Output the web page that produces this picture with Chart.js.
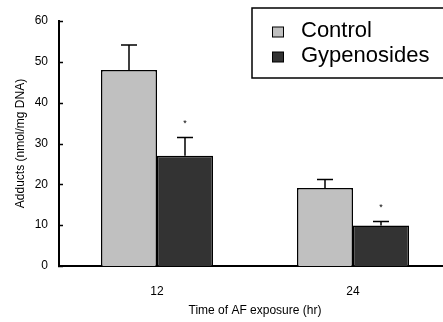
<!DOCTYPE html>
<html>
<head>
<meta charset="utf-8">
<script src="https://cdn.jsdelivr.net/npm/chart.js@4/dist/chart.umd.min.js"></script>
<style>
  html, body { margin: 0; padding: 0; background: #fff; overflow: hidden; }
  #wrap { width: 452px; height: 322px; }
</style>
</head>
<body>
<div id="wrap"><canvas id="c" width="452" height="322"></canvas></div>
<script>
// data
const categories = ['12', '24'];
const controlMeans = [48.0, 19.1];
const controlErr = [6.1, 2.1];
const gypMeans = [27.0, 9.9];
const gypErr = [4.5, 1.0];
const gypMarks = ['*', '*'];
const seriesLabels = ['Control', 'Gypenosides'];

const FONT = '"Liberation Sans", Arial, sans-serif';

// error bars + significance marks
const errorBars = {
  id: 'errorBars',
  afterDatasetsDraw(chart) {
    const ctx = chart.ctx;
    const y = chart.scales.y;
    const errs = [controlErr, gypErr];
    const marks = [null, gypMarks];
    chart.data.datasets.forEach((ds, di) => {
      const meta = chart.getDatasetMeta(di);
      meta.data.forEach((bar, i) => {
        const top = y.getPixelForValue(ds.data[i] + errs[di][i]);
        ctx.save();
        ctx.strokeStyle = '#000';
        ctx.lineWidth = 1.5;
        ctx.beginPath();
        ctx.moveTo(bar.x, bar.y);
        ctx.lineTo(bar.x, top);
        ctx.moveTo(bar.x - 8, top);
        ctx.lineTo(bar.x + 8, top);
        ctx.stroke();
        if (marks[di] && marks[di][i]) {
          ctx.fillStyle = '#000';
          ctx.font = '9px ' + FONT;
          ctx.textAlign = 'center';
          ctx.textBaseline = 'middle';
          ctx.fillText(marks[di][i], bar.x, top - 14);
        }
        ctx.restore();
      });
    });
  }
};

// inward tick marks on the y axis
const innerTicks = {
  id: 'innerTicks',
  afterDraw(chart) {
    const ctx = chart.ctx;
    const y = chart.scales.y;
    const left = chart.chartArea.left;
    ctx.save();
    ctx.strokeStyle = '#000';
    ctx.lineWidth = 1.5;
    y.ticks.forEach(t => {
      const py = Math.round(y.getPixelForValue(t.value)) + 0.5;
      ctx.beginPath();
      ctx.moveTo(left - 1, py);
      ctx.lineTo(left + 4, py);
      ctx.stroke();
    });
    ctx.restore();
  }
};

// boxed legend in the top right corner
const boxLegend = {
  id: 'boxLegend',
  afterDraw(chart) {
    const ctx = chart.ctx;
    ctx.save();
    ctx.fillStyle = '#fff';
    ctx.fillRect(252, 8, 220, 70);
    ctx.strokeStyle = '#000';
    ctx.lineWidth = 1.5;
    ctx.strokeRect(252, 8, 220, 70);
    ctx.font = '22px ' + FONT;
    ctx.textBaseline = 'alphabetic';
    chart.data.datasets.forEach((ds, i) => {
      const base = 37 + i * 25;
      ctx.fillStyle = ds.backgroundColor;
      ctx.fillRect(272.5, base - 10, 11, 10);
      ctx.lineWidth = 1;
      ctx.strokeRect(272.5, base - 10, 11, 10);
      ctx.fillStyle = '#000';
      ctx.fillText(ds.label, 301, base);
    });
    ctx.restore();
  }
};

new Chart(document.getElementById('c'), {
  type: 'bar',
  data: {
    labels: categories,
    datasets: [
      { label: seriesLabels[0], data: controlMeans, backgroundColor: '#c0c0c0', borderColor: '#000', borderWidth: 1.5 },
      { label: seriesLabels[1], data: gypMeans, backgroundColor: '#333333', borderColor: '#000', borderWidth: 1.5 }
    ]
  },
  options: {
    responsive: false,
    devicePixelRatio: 1,
    animation: false,
    layout: { padding: { top: 21, right: 1, left: 0, bottom: 0 } },
    datasets: { bar: { categoryPercentage: 0.5714, barPercentage: 1 } },
    plugins: { legend: { display: false }, tooltip: { enabled: false } },
    scales: {
      x: {
        grid: { display: false, drawTicks: false },
        border: { display: true, color: '#000', width: 2 },
        ticks: { color: '#000', padding: 18, font: { family: FONT, size: 12 } },
        title: { display: true, text: 'Time of AF exposure (hr)', color: '#000', padding: { top: 0, bottom: 4 }, font: { family: FONT, size: 12 } },
        afterFit(s) { s.height = 56; }
      },
      y: {
        min: 0, max: 60,
        grid: { display: false, drawTicks: false },
        border: { display: true, color: '#000', width: 2 },
        ticks: { stepSize: 10, color: '#000', padding: 11, font: { family: FONT, size: 12 } },
        title: { display: true, text: 'Adducts (nmol/mg DNA)', color: '#000', padding: { top: 13, bottom: 0 }, font: { family: FONT, size: 12 } },
        afterFit(s) { s.width = 59; }
      }
    }
  },
  plugins: [errorBars, innerTicks, boxLegend]
});
</script>
</body>
</html>
